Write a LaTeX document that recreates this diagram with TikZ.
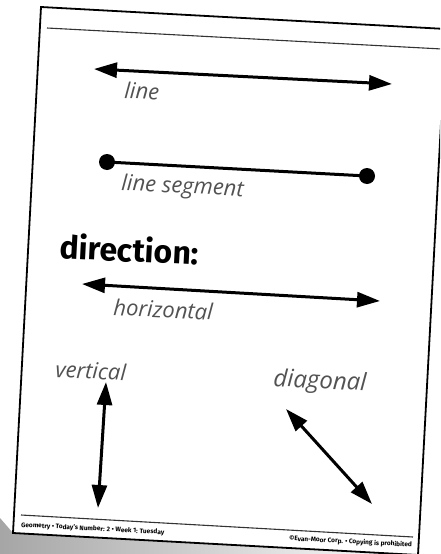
\documentclass[tikz,border=0pt]{standalone}
\usepackage{fontspec}
\setmainfont{Open Sans}
\newfontfamily\headfont{Fira Sans}
\usetikzlibrary{arrows.meta}
\begin{document}
\begin{tikzpicture}[x=1pt,y=-1pt,
  pageedge/.style={line width=1.8pt,black},
  thinrule/.style={line width=1.1pt,black!80},
  dbl/.style={line width=3pt,black,{Triangle[length=23pt,width=15pt]}-{Triangle[length=23pt,width=15pt]}},
  seg/.style={line width=3pt,black},
  lbl/.style={font=\fontsize{22}{24}\selectfont\itshape,text=black!68,anchor=base west,rotate=-3,inner sep=0pt},
  head/.style={font=\headfont\bfseries\fontsize{32}{34}\selectfont,anchor=base west,rotate=-3,inner sep=0pt},
  foot/.style={font=\headfont\bfseries\fontsize{6.5}{7}\selectfont,rotate=-3,inner sep=0pt}]
\useasboundingbox (0,0) rectangle (440,554);
\clip (0,0) rectangle (440,554);
% background shadow below the page
\shade[left color=black!35,right color=white] (0,518) -- (13,533) -- (418,555) -- (0,555) -- cycle;
% page
\coordinate (tl) at (41,7);
\coordinate (tr) at (446,29);
\coordinate (br) at (418,555);
\coordinate (bl) at (13,533);
\fill[white] (tl) -- (tr) -- (br) -- (bl) -- cycle;
\draw[pageedge] (tl) -- (tr) -- (br) -- (bl) -- cycle;
% header and footer rules
\coordinate (h1) at (47,28);
\coordinate (h2) at (442,49);
\draw[thinrule] (h1) -- (h2);
\coordinate (f1) at (21,515);
\coordinate (f2) at (413,537);
\draw[thinrule] (f1) -- (f2);
% line
\coordinate (la) at (94,69);
\coordinate (lb) at (392,84);
\draw[dbl] (la) -- (lb);
\node[lbl] (tline) at (124,98) {line};
% line segment
\coordinate (sa) at (107,162);
\coordinate (sb) at (367,176);
\draw[seg] (sa) -- (sb);
\fill (sa) circle[radius=8];
\fill (sb) circle[radius=8];
\node[lbl] (tseg) at (121,190) {line segment};
% direction
\node[head] (tdir) at (59,258) {direction:};
% horizontal
\coordinate (ha) at (82,284);
\coordinate (hb) at (380,301);
\draw[dbl] (ha) -- (hb);
\node[lbl] (thor) at (113,315) {horizontal};
% vertical
\node[lbl] (tver) at (55,377) {vertical};
\coordinate (va) at (106,382);
\coordinate (vb) at (98,508);
\draw[dbl] (va) -- (vb);
% diagonal
\node[lbl,font=\fontsize{24}{26}\selectfont\itshape] (tdia) at (273,386) {diagonal};
\coordinate (da) at (286,409);
\coordinate (db) at (372,504);
\draw[dbl] (da) -- (db);
% footer texts
\node[foot,anchor=base west] (fl) at (21,527) {Geometry • Today’s Number: 2 • Week 1: Tuesday};
\node[foot,anchor=base east] (fr) at (412,547) {©Evan-Moor Corp. • Copying is prohibited};
\end{tikzpicture}
\end{document}
